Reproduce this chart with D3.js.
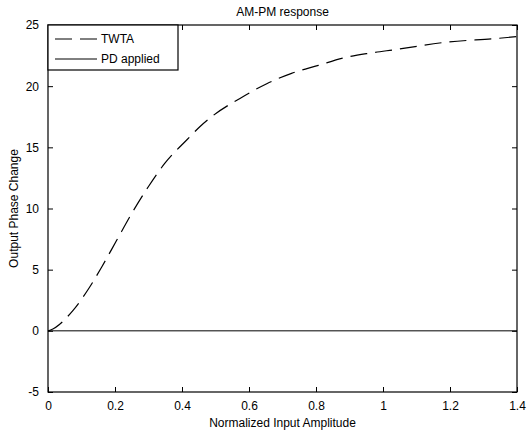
<!DOCTYPE html>
<html>
<head>
<meta charset="utf-8">
<script src="https://cdn.jsdelivr.net/npm/d3@7"></script>
<style>
  body { margin: 0; background: #fff; }
  text { font-family: "Liberation Sans", Arial, sans-serif; fill: #000; }
</style>
</head>
<body>
<div id="chart"></div>
<script>
// canvas size
var w = 527, h = 433;
var margin = {top: 25, right: 10, bottom: 41, left: 48};
var width = w - margin.left - margin.right;
var height = h - margin.top - margin.bottom;

// data
var amplitude = [0, 0.006, 0.0755, 0.125, 0.16, 0.205, 0.25, 0.30, 0.349, 0.414, 0.454, 0.493,
                 0.573, 0.653, 0.727, 0.807, 0.881, 0.961, 1.04, 1.19, 1.34, 1.4];
var twta = [0, 0.05, 1.7, 3.6, 5.2, 7.4, 9.6, 11.8, 13.7, 15.6, 16.7, 17.6,
            19.0, 20.2, 21.05, 21.7, 22.3, 22.7, 23.0, 23.6, 23.9, 24.05];
var pdAmplitude = [0, 1.4];
var pdApplied = [0, 0];
var xTicks = [0, 0.2, 0.4, 0.6, 0.8, 1, 1.2, 1.4];
var yTicks = [-5, 0, 5, 10, 15, 20, 25];
var seriesNames = ["TWTA", "PD applied"];

var xScale = d3.scaleLinear().domain([0, 1.4]).range([0, width]);
var yScale = d3.scaleLinear().domain([-5, 25]).range([height, 0]);

var svg = d3.select("#chart").append("svg")
    .attr("width", w).attr("height", h)
    .append("g")
    .attr("transform", "translate(" + margin.left + "," + margin.top + ")");

var line = d3.line()
    .x(function(d) { return xScale(d[0]); })
    .y(function(d) { return yScale(d[1]); })
    .curve(d3.curveMonotoneX);

// PD applied (solid)
svg.append("path")
    .datum(d3.zip(pdAmplitude, pdApplied))
    .attr("d", line)
    .attr("fill", "none").attr("stroke", "#000").attr("stroke-width", 1);

// TWTA (dashed)
svg.append("path")
    .datum(d3.zip(amplitude, twta))
    .attr("d", line)
    .attr("fill", "none").attr("stroke", "#000").attr("stroke-width", 1.2)
    .attr("stroke-dasharray", "17,8");

// axes, ticks inward on all four sides
function styleAxis(g) {
    g.select(".domain").remove();
    g.selectAll("line").attr("stroke", "#000");
    g.selectAll("text").style("font-size", "12px");
}
svg.append("g").attr("transform", "translate(0," + height + ")")
    .call(d3.axisBottom(xScale).tickValues(xTicks).tickSizeInner(-5).tickSizeOuter(0).tickPadding(9)
        .tickFormat(function(d) { return String(d); }))
    .call(styleAxis);
svg.append("g")
    .call(d3.axisTop(xScale).tickValues(xTicks).tickSizeInner(-5).tickSizeOuter(0).tickFormat(""))
    .call(styleAxis);
svg.append("g")
    .call(d3.axisLeft(yScale).tickValues(yTicks).tickSizeInner(-5).tickSizeOuter(0).tickPadding(9)
        .tickFormat(function(d) { return String(d); }))
    .call(styleAxis);
svg.append("g").attr("transform", "translate(" + width + ",0)")
    .call(d3.axisRight(yScale).tickValues(yTicks).tickSizeInner(-5).tickSizeOuter(0).tickFormat(""))
    .call(styleAxis);

// box
svg.append("rect")
    .attr("width", width).attr("height", height)
    .attr("fill", "none").attr("stroke", "#000").attr("stroke-width", 1.2);

// legend
var legend = svg.append("g");
legend.append("rect")
    .attr("x", 0).attr("y", 0).attr("width", 130).attr("height", 45)
    .attr("fill", "#fff").attr("stroke", "#000").attr("stroke-width", 1.2);
seriesNames.forEach(function(name, i) {
    var yy = 14 + i * 20;
    legend.append("line")
        .attr("x1", 7).attr("x2", 49).attr("y1", yy).attr("y2", yy)
        .attr("stroke", "#000").attr("stroke-width", 1)
        .attr("stroke-dasharray", i === 0 ? "17,8" : null);
    legend.append("text")
        .attr("x", 53).attr("y", yy + 4)
        .style("font-size", "12px")
        .text(name);
});

// labels
svg.append("text")
    .attr("x", width / 2).attr("y", -9)
    .attr("text-anchor", "middle").style("font-size", "12px")
    .text("AM-PM response");
svg.append("text")
    .attr("x", width / 2).attr("y", height + 35)
    .attr("text-anchor", "middle").style("font-size", "12px")
    .text("Normalized Input Amplitude");
svg.append("text")
    .attr("transform", "translate(-30," + (height / 2) + ") rotate(-90)")
    .attr("text-anchor", "middle").style("font-size", "12px")
    .text("Output Phase Change");
</script>
</body>
</html>
